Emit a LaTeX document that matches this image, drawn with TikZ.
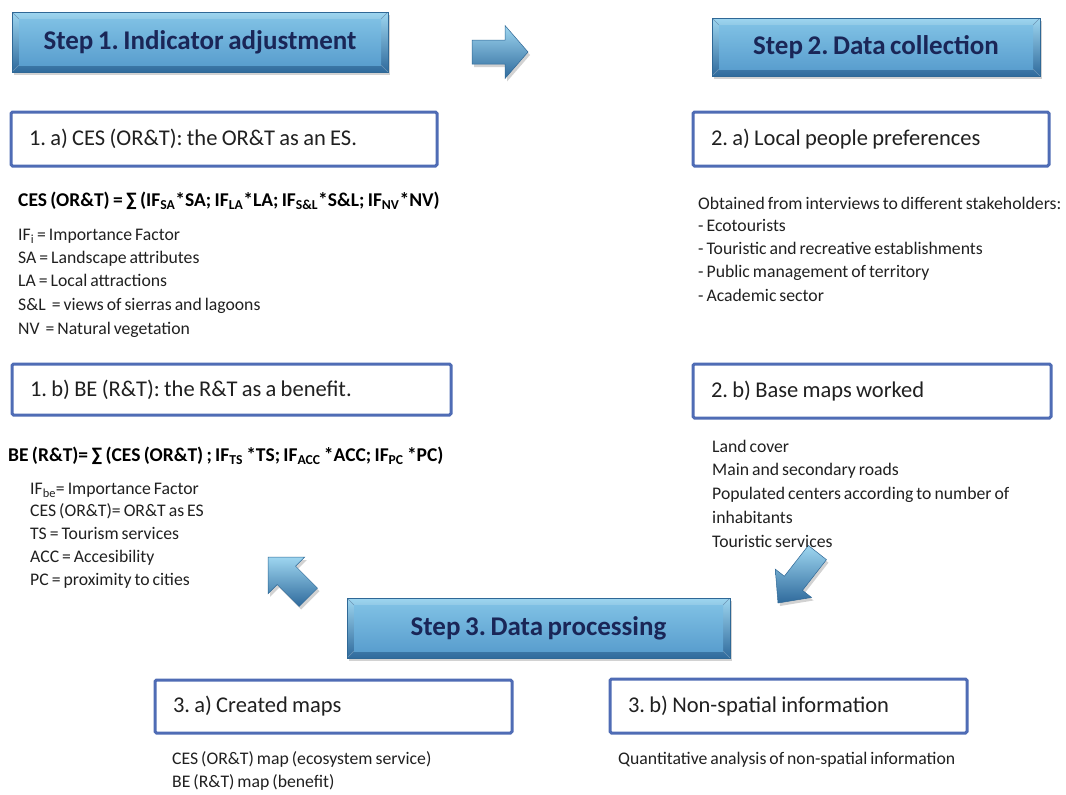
\documentclass[tikz,border=0pt]{standalone}
\usepackage{fontspec}
\setmainfont{Carlito}[WordSpace=0.75]
\usetikzlibrary{shadows,calc}
\frenchspacing
\newcommand{\tightsp}{\spaceskip=0.19em plus 0.05em\relax}
\definecolor{boxblue}{HTML}{4F6CB5}
\definecolor{navy}{HTML}{1A2657}
\definecolor{stepA}{HTML}{9ED6F0}
\definecolor{stepB}{HTML}{2F6A9C}
\definecolor{faceA}{HTML}{84C5E7}
\definecolor{faceB}{HTML}{5499CB}
\definecolor{stepedge}{HTML}{2F6896}
\definecolor{txtc}{HTML}{202020}
\tikzset{
 stepbox/.style={draw=stepedge, line width=0.6pt, top color=stepA, bottom color=stepB,
   drop shadow={shadow xshift=2pt, shadow yshift=-3pt, opacity=0.35},
   path picture={
     \path[top color=faceA, bottom color=faceB]
       ($(path picture bounding box.north west)+(7pt,-7pt)$) rectangle
       ($(path picture bounding box.south east)+(-7pt,7pt)$);
     \draw[stepedge!70, line width=0.4pt]
       (path picture bounding box.north west) -- ++(7pt,-7pt)
       (path picture bounding box.north east) -- ++(-7pt,-7pt)
       (path picture bounding box.south west) -- ++(7pt,7pt)
       (path picture bounding box.south east) -- ++(-7pt,7pt);
   },
   font=\fontsize{27}{30}\selectfont\bfseries, text=navy, inner sep=0pt},
 wbox/.style={draw=boxblue, line width=3pt, fill=white, rounded corners=1.5pt, align=left,
   inner xsep=18pt, inner ysep=0pt, font=\fontsize{22.5}{25}\selectfont, text=txtc,
   execute at begin node=\tightsp},
 formula/.style={font=\fontsize{19.5}{22}\selectfont\bfseries, inner sep=0pt, anchor=west, text=black},
 txt/.style={font=\fontsize{17.7}{20}\selectfont, inner sep=0pt, anchor=west, text=txtc,
   text height=13pt, text depth=4pt},
 blockarrow/.style={draw=stepedge, line width=0.5pt, top color=stepA, bottom color=stepB,
   drop shadow={shadow xshift=2pt, shadow yshift=-3pt, opacity=0.35}}
}
% tip, angle, total length, head length, head half-width, shaft half-width
\newcommand{\blockarr}[6]{%
 \begin{scope}[shift={(#1)}, rotate=#2]
  \path[blockarrow] (0,0) -- (-#4,#5) -- (-#4,#6) -- (-#3,#6) -- (-#3,-#6) -- (-#4,-#6) -- (-#4,-#5) -- cycle;
 \end{scope}}
\begin{document}
\begin{tikzpicture}[x=1pt,y=-1pt]
\useasboundingbox[fill=white] (0,0) rectangle (1066,795);

% step boxes
\node[stepbox, minimum width=376pt, minimum height=60pt] (s1) at (200,42) {Step 1. Indicator adjustment};
\node[stepbox, minimum width=328pt, minimum height=58pt] (s2) at (876,47) {Step 2. Data collection};
\node[stepbox, minimum width=383pt, minimum height=60pt] (s3) at (538.5,628) {Step 3. Data processing};

% block arrows
\blockarr{528,52}{0}{56}{23}{26.5}{12}
\blockarr{268,557}{135}{57}{26}{26}{13}
\blockarr{778,603}{232}{64}{25}{23}{11.5}

% white boxes
\node[wbox, text width=390pt, minimum height=54pt] (b1a) at (224,139) {1. a) CES (OR\&T): the OR\&T as an ES.};
\node[wbox, text width=320pt, minimum height=54pt] (b2a) at (871,139) {2. a) Local people preferences};
\node[wbox, text width=403pt, minimum height=51pt] (b1b) at (231.5,389.5) {1. b) BE (R\&T): the R\&T as a benefit.};
\node[wbox, text width=322pt, minimum height=54pt] (b2b) at (872,391) {2. b) Base maps worked};
\node[wbox, text width=321pt, minimum height=53pt] (b3a) at (333.5,706.5) {3. a) Created maps};
\node[wbox, text width=321pt, minimum height=54pt] (b3b) at (788.5,706) {3. b) Non-spatial information};

% formulas
\node[formula] (f1) at (18,201) {CES (OR\&T) = ∑ (IF\textsubscript{SA}*SA; IF\textsubscript{LA}*LA; IF\textsubscript{S\&L}*S\&L; IF\textsubscript{NV}*NV)};
\node[formula] (f2) at (8,456) {BE (R\&T)= ∑ (CES (OR\&T) ; IF\textsubscript{TS} *TS; IF\textsubscript{ACC} *ACC; IF\textsubscript{PC} *PC)};

% left lists
\node[txt] (l1a) at (18,236) {IF\textsubscript{i} = Importance Factor};
\node[txt] (l1b) at (18,259) {SA = Landscape attributes};
\node[txt] (l1c) at (18,282) {LA = Local attractions};
\node[txt] (l1d) at (18,306) {S\&L\ \ = views of sierras and lagoons};
\node[txt] (l1e) at (18,330) {NV\ \ = Natural vegetation};

\node[txt] (l2a) at (30,490) {IF\textsubscript{be}= Importance Factor};
\node[txt] (l2b) at (30,512) {CES (OR\&T)= OR\&T as ES};
\node[txt] (l2c) at (30,535) {TS = Tourism services};
\node[txt] (l2d) at (30,558) {ACC = Accesibility};
\node[txt] (l2e) at (30,581) {PC = proximity to cities};

% right lists
\node[txt] (r1a) at (698,205) {Obtained from interviews to different stakeholders:};
\node[txt] (r1b) at (698,227) {- Ecotourists};
\node[txt] (r1c) at (698,250) {- Touristic and recreative establishments};
\node[txt] (r1d) at (698,273) {- Public management of territory};
\node[txt] (r1e) at (698,297) {- Academic sector};

\node[txt] (r2a) at (712,448) {Land cover};
\node[txt] (r2b) at (712,471) {Main and secondary roads};
\node[txt] (r2c) at (712,495) {Populated centers according to number of};
\node[txt] (r2d) at (712,519) {inhabitants};
\node[txt] (r2e) at (712,543) {Touristic services};

% bottom texts
\node[txt] (t3a) at (172,760) {CES (OR\&T) map (ecosystem service)};
\node[txt] (t3b) at (172,783) {BE (R\&T) map (benefit)};
\node[txt] (t3c) at (618,760) {Quantitative analysis of non-spatial information};
\end{tikzpicture}
\end{document}
